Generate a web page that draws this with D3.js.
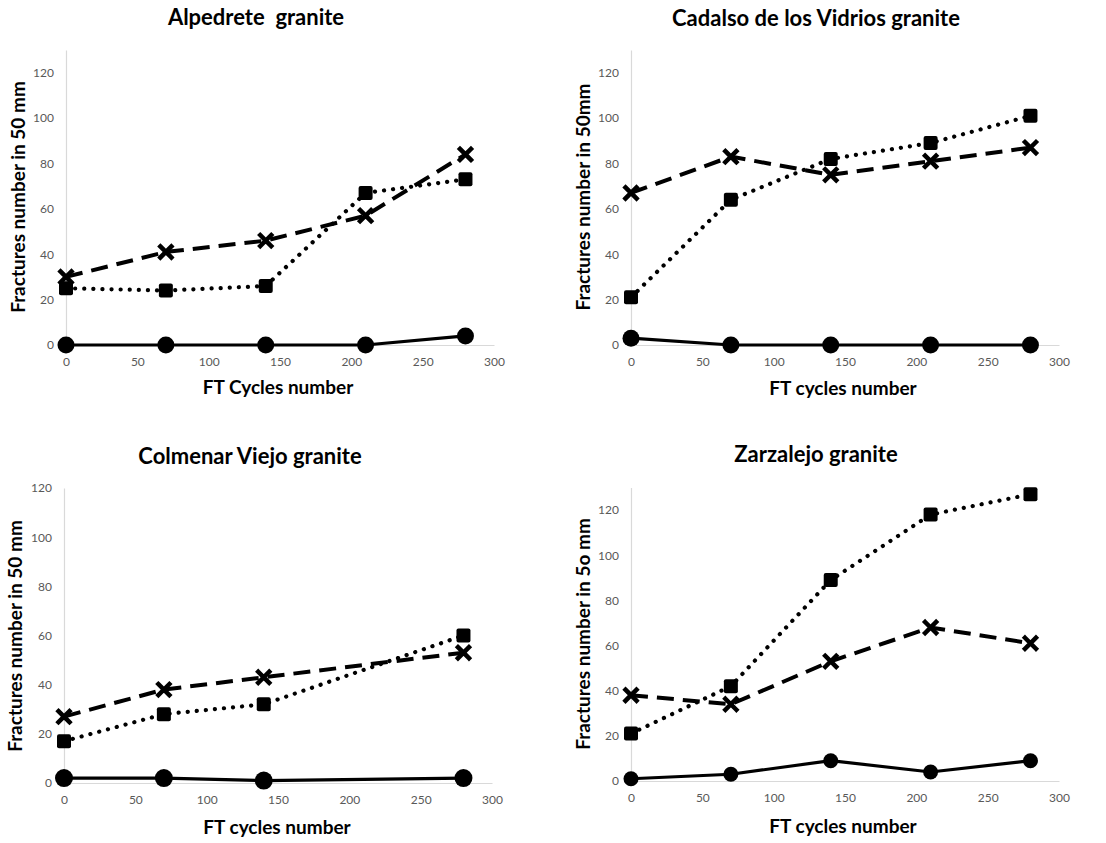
<!DOCTYPE html>
<html><head><meta charset="utf-8">
<script src="https://cdn.jsdelivr.net/npm/d3@7"></script>
<style>
body{margin:0;background:#fff;}
svg{display:block;}
</style></head>
<body>
<svg id="c" width="1106" height="843"></svg>
<script>
// ---- data ----
const titles = ["Alpedrete  granite", "Cadalso de los Vidrios granite", "Colmenar Viejo granite", "Zarzalejo granite"];
const xLabels = ["FT Cycles number", "FT cycles number", "FT cycles number", "FT cycles number"];
const yLabels = ["Fractures number in 50 mm", "Fractures number in 50mm", "Fractures number in 50 mm", "Fractures number in 5o mm"];
const xTicks = [0, 50, 100, 150, 200, 250, 300];
const yTicks = [0, 20, 40, 60, 80, 100, 120];

const cyclesA = [0, 70, 140, 210, 280];
const alpCircle = [0, 0, 0, 0, 4];
const alpSquare = [25, 24, 26, 67, 73];
const alpCross  = [30, 41, 46, 57, 84];

const cyclesC = [0, 70, 140, 210, 280];
const cadCircle = [3, 0, 0, 0, 0];
const cadSquare = [21, 64, 82, 89, 101];
const cadCross  = [67, 83, 75, 81, 87];

const cyclesV = [0, 70, 140, 280];
const colCircle = [2, 2, 1, 2];
const colSquare = [17, 28, 32, 60];
const colCross  = [27, 38, 43, 53];

const cyclesZ = [0, 70, 140, 210, 280];
const zarCircle = [1, 3, 9, 4, 9];
const zarSquare = [21, 42, 89, 118, 127];
const zarCross  = [38, 34, 53, 68, 61];

const yMax = [130, 130, 120, 130];

// ---- layout ----
const panels = [
  {x0:66,  x1:494,  y0:345, yTop:50,    cycles:cyclesA, c:alpCircle, s:alpSquare, x:alpCross, r:8.5,
   tx:256, ty:25, xlx:278, xly:394, ylx:25, yly:197},
  {x0:631, x1:1059, y0:345, yTop:50,    cycles:cyclesC, c:cadCircle, s:cadSquare, x:cadCross, r:8.5,
   tx:816, ty:26, xlx:843, xly:395, ylx:590, yly:197},
  {x0:64,  x1:492,  y0:783, yTop:488,   cycles:cyclesV, c:colCircle, s:colSquare, x:colCross, r:9,
   tx:250, ty:464, xlx:277, xly:834, ylx:22, yly:636},
  {x0:631, x1:1059, y0:781, yTop:487.5, cycles:cyclesZ, c:zarCircle, s:zarSquare, x:zarCross, r:7.5,
   tx:816, ty:462, xlx:843, xly:833, ylx:590, yly:634}
];

const svg = d3.select("#c");
const font = "Lato, 'Open Sans', sans-serif";

panels.forEach((p, i) => {
  const xs = d3.scaleLinear().domain([0, 300]).range([p.x0, p.x1]);
  const ys = d3.scaleLinear().domain([0, yMax[i]]).range([p.y0, p.yTop]);
  const g = svg.append("g");

  // axes
  const xAx = g.append("g").attr("transform", `translate(0,${p.y0})`)
    .call(d3.axisBottom(xs).tickValues(xTicks).tickSize(0).tickPadding(12));
  const yAx = g.append("g").attr("transform", `translate(${p.x0},0)`)
    .call(d3.axisLeft(ys).tickValues(yTicks).tickSize(0).tickPadding(12));
  [xAx, yAx].forEach(a => {
    a.select(".domain").attr("stroke", "#d9d9d9").attr("stroke-width", 1.2);
    a.selectAll("text").attr("fill", "#595959").style("font-family", font).style("font-size", "12px");
  });

  // titles
  g.append("text").attr("x", p.tx).attr("y", p.ty).attr("text-anchor", "middle")
    .style("white-space", "pre")
    .style("font-family", font).style("font-weight", "bold").style("font-size", "22px").text(titles[i]);
  g.append("text").attr("x", p.xlx).attr("y", p.xly).attr("text-anchor", "middle")
    .style("font-family", font).style("font-weight", "bold").style("font-size", "19px").text(xLabels[i]);
  g.append("text").attr("transform", `translate(${p.ylx},${p.yly}) rotate(-90)`).attr("text-anchor", "middle")
    .style("font-family", font).style("font-weight", "bold").style("font-size", "19px").text(yLabels[i]);

  const line = d3.line().x(d => xs(d[0])).y(d => ys(d[1]));
  const pts = arr => p.cycles.map((c, k) => [c, arr[k]]);

  // dashed crosses series
  g.append("path").datum(pts(p.x)).attr("d", line).attr("fill", "none").attr("stroke", "#000")
    .attr("stroke-width", 4).attr("stroke-dasharray", "17,9");
  // dotted squares series
  g.append("path").datum(pts(p.s)).attr("d", line).attr("fill", "none").attr("stroke", "#000")
    .attr("stroke-width", 4.2).attr("stroke-linecap", "round").attr("stroke-dasharray", "0.1,9");
  // solid circles series
  g.append("path").datum(pts(p.c)).attr("d", line).attr("fill", "none").attr("stroke", "#000")
    .attr("stroke-width", 3.2);

  // markers
  g.selectAll(".cr").data(pts(p.x)).join("path")
    .attr("transform", d => `translate(${xs(d[0])},${ys(d[1])})`)
    .attr("d", "M-5.5,-5.5L5.5,5.5M-5.5,5.5L5.5,-5.5")
    .attr("stroke", "#000").attr("stroke-width", 4.5).attr("stroke-linecap", "square");
  g.selectAll(".sq").data(pts(p.s)).join("rect")
    .attr("x", d => xs(d[0]) - 7).attr("y", d => ys(d[1]) - 7)
    .attr("width", 14).attr("height", 14).attr("rx", 2).attr("fill", "#000");
  g.selectAll(".ci").data(pts(p.c)).join("circle")
    .attr("cx", d => xs(d[0])).attr("cy", d => ys(d[1])).attr("r", p.r).attr("fill", "#000");
});
</script>
</body></html>
